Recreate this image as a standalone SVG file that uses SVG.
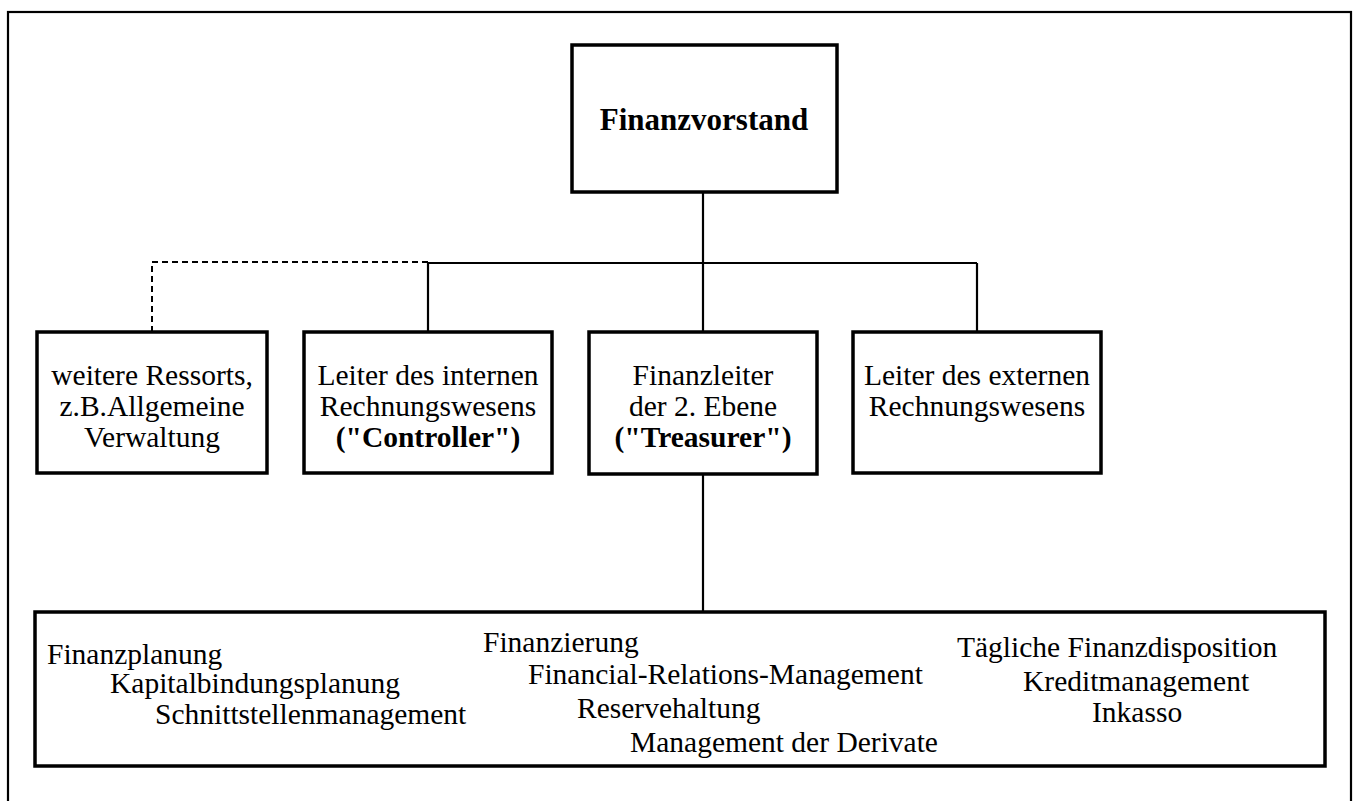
<svg xmlns="http://www.w3.org/2000/svg" width="1359" height="801" viewBox="0 0 1359 801">
<style>
  .frame { fill: none; stroke: #000; stroke-width: 2.2; }
  .box { fill: #fff; stroke: #000; stroke-width: 3.5; }
  .conn { fill: none; stroke: #000; stroke-width: 2.2; }
  .dash { fill: none; stroke: #000; stroke-width: 2; stroke-dasharray: 6 4; }
  .t { font-family: "Liberation Serif", "Times New Roman", serif; font-size: 29.5px; fill: #000; }
  .c { text-anchor: middle; }
  .b { font-weight: bold; }
</style>
<rect x="0" y="0" width="1359" height="801" fill="#fff"/>
<rect id="frame" class="frame" x="8" y="12" width="1343" height="900"/>

<g id="connectors">
  <path class="conn" d="M703 192 V263"/>
  <path class="conn" d="M428 263 H977"/>
  <path class="conn" d="M428 263 V332"/>
  <path class="conn" d="M703 263 V332"/>
  <path class="conn" d="M977 263 V332"/>
  <path class="conn" d="M703 474 V612"/>
  <path class="dash" d="M428 262 H152 V332"/>
</g>

<g id="finanzvorstand">
  <rect class="box" x="572" y="45" width="265" height="147"/>
  <text class="t c b" x="704" y="130" style="font-size:31px">Finanzvorstand</text>
</g>

<g id="weitere-ressorts">
  <rect class="box" x="37" y="332" width="230" height="141"/>
  <text class="t c" x="152" y="385">weitere Ressorts,</text>
  <text class="t c" x="152" y="416">z.B.Allgemeine</text>
  <text class="t c" x="152" y="447">Verwaltung</text>
</g>

<g id="controller">
  <rect class="box" x="304" y="332" width="248" height="141"/>
  <text class="t c" x="428" y="385">Leiter des internen</text>
  <text class="t c" x="428" y="416">Rechnungswesens</text>
  <text class="t c b" x="428" y="447">("Controller")</text>
</g>

<g id="treasurer">
  <rect class="box" x="589" y="332" width="228" height="142"/>
  <text class="t c" x="703" y="385">Finanzleiter</text>
  <text class="t c" x="703" y="416">der 2. Ebene</text>
  <text class="t c b" x="703" y="447">("Treasurer")</text>
</g>

<g id="externes-rechnungswesen">
  <rect class="box" x="853" y="332" width="248" height="141"/>
  <text class="t c" x="977" y="385">Leiter des externen</text>
  <text class="t c" x="977" y="416">Rechnungswesens</text>
</g>

<g id="aufgaben">
  <rect class="box" x="35" y="612" width="1290" height="154"/>
  <text class="t" x="47" y="664">Finanzplanung</text>
  <text class="t" x="110" y="693">Kapitalbindungsplanung</text>
  <text class="t" x="155" y="724">Schnittstellenmanagement</text>
  <text class="t" x="483" y="652">Finanzierung</text>
  <text class="t" x="528" y="684">Financial-Relations-Management</text>
  <text class="t" x="577" y="718">Reservehaltung</text>
  <text class="t" x="630" y="752">Management der Derivate</text>
  <text class="t" x="957" y="657">Tägliche Finanzdisposition</text>
  <text class="t" x="1023" y="691">Kreditmanagement</text>
  <text class="t" x="1092" y="722">Inkasso</text>
</g>
</svg>
